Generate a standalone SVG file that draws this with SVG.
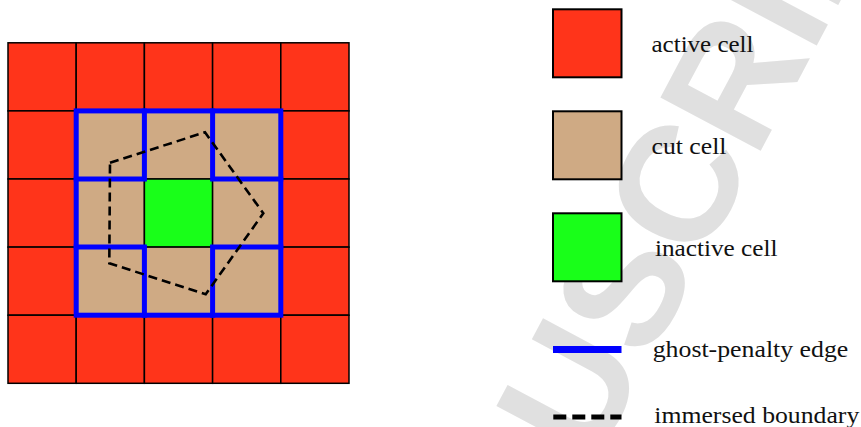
<svg xmlns="http://www.w3.org/2000/svg" width="861" height="427" viewBox="0 0 861 427">
  <style>
    .wm { font-family: 'Liberation Sans', Arial, sans-serif; font-size: 165px; font-weight: bold; fill: #e0e0e0; }
    .cell { stroke: #000; stroke-width: 1.5; }
    .active { fill: #ff341a; }
    .cut { fill: #cfaa84; }
    .inactive { fill: #19ff19; }
    .ghost { stroke: #0000ff; stroke-width: 5; fill: none; stroke-linecap: square; }
    .bound { stroke: #000; stroke-width: 2.6; fill: none; stroke-dasharray: 9 5; }
    .lbox { stroke: #000; stroke-width: 2; }
    .lbl { font-family: 'Liberation Serif', 'Times New Roman', serif; font-size: 23px; fill: #111; }
  </style>

  <text class="wm" transform="translate(592 468) rotate(-62)">USCRIPT</text>

  <g id="grid">
    <rect class="cell active" x="8" y="42.8" width="68.2" height="68.1"/>
    <rect class="cell active" x="76.2" y="42.8" width="68.2" height="68.1"/>
    <rect class="cell active" x="144.4" y="42.8" width="68.2" height="68.1"/>
    <rect class="cell active" x="212.6" y="42.8" width="68.2" height="68.1"/>
    <rect class="cell active" x="280.8" y="42.8" width="68.2" height="68.1"/>

    <rect class="cell active" x="8" y="110.9" width="68.2" height="68.1"/>
    <rect class="cell cut" x="76.2" y="110.9" width="68.2" height="68.1"/>
    <rect class="cell cut" x="144.4" y="110.9" width="68.2" height="68.1"/>
    <rect class="cell cut" x="212.6" y="110.9" width="68.2" height="68.1"/>
    <rect class="cell active" x="280.8" y="110.9" width="68.2" height="68.1"/>

    <rect class="cell active" x="8" y="179" width="68.2" height="68.1"/>
    <rect class="cell cut" x="76.2" y="179" width="68.2" height="68.1"/>
    <rect class="cell inactive" x="144.4" y="179" width="68.2" height="68.1"/>
    <rect class="cell cut" x="212.6" y="179" width="68.2" height="68.1"/>
    <rect class="cell active" x="280.8" y="179" width="68.2" height="68.1"/>

    <rect class="cell active" x="8" y="247.1" width="68.2" height="68.1"/>
    <rect class="cell cut" x="76.2" y="247.1" width="68.2" height="68.1"/>
    <rect class="cell cut" x="144.4" y="247.1" width="68.2" height="68.1"/>
    <rect class="cell cut" x="212.6" y="247.1" width="68.2" height="68.1"/>
    <rect class="cell active" x="280.8" y="247.1" width="68.2" height="68.1"/>

    <rect class="cell active" x="8" y="315.2" width="68.2" height="68.1"/>
    <rect class="cell active" x="76.2" y="315.2" width="68.2" height="68.1"/>
    <rect class="cell active" x="144.4" y="315.2" width="68.2" height="68.1"/>
    <rect class="cell active" x="212.6" y="315.2" width="68.2" height="68.1"/>
    <rect class="cell active" x="280.8" y="315.2" width="68.2" height="68.1"/>
  </g>

  <g id="ghost-edges">
    <rect class="ghost" x="76.2" y="110.9" width="204.6" height="204.3"/>
    <path class="ghost" d="M144.4 110.9 V179 M212.6 110.9 V179 M144.4 247.1 V315.2 M212.6 247.1 V315.2 M76.2 179 H144.4 M212.6 179 H280.8 M76.2 247.1 H144.4 M212.6 247.1 H280.8"/>
  </g>

  <g id="immersed-boundary">
    <polygon class="bound" points="110,162.7 205,132.3 263.3,213.3 205.7,294.3 109.3,263.3"/>
  </g>

  <g id="legend-active">
    <rect class="lbox active" x="553" y="9.3" width="68.5" height="68"/>
    <text class="lbl" x="651.5" y="51.7" textLength="102" lengthAdjust="spacingAndGlyphs">active cell</text>
  </g>
  <g id="legend-cut">
    <rect class="lbox cut" x="553" y="111.3" width="68.5" height="68"/>
    <text class="lbl" x="651.5" y="153.5" textLength="75" lengthAdjust="spacingAndGlyphs">cut cell</text>
  </g>
  <g id="legend-inactive">
    <rect class="lbox inactive" x="553" y="213.3" width="68.5" height="68"/>
    <text class="lbl" x="655" y="256" textLength="122.5" lengthAdjust="spacingAndGlyphs">inactive cell</text>
  </g>
  <g id="legend-ghost">
    <line x1="553" y1="349.5" x2="621.5" y2="349.5" stroke="#0000ff" stroke-width="7"/>
    <text class="lbl" x="652.7" y="357.3" textLength="195.6" lengthAdjust="spacingAndGlyphs">ghost-penalty edge</text>
  </g>
  <g id="legend-boundary">
    <line x1="553.3" y1="417" x2="621.5" y2="417" stroke="#000" stroke-width="5" stroke-dasharray="13 6"/>
    <text class="lbl" x="654.3" y="423.3" textLength="205" lengthAdjust="spacingAndGlyphs">immersed boundary</text>
  </g>
</svg>
